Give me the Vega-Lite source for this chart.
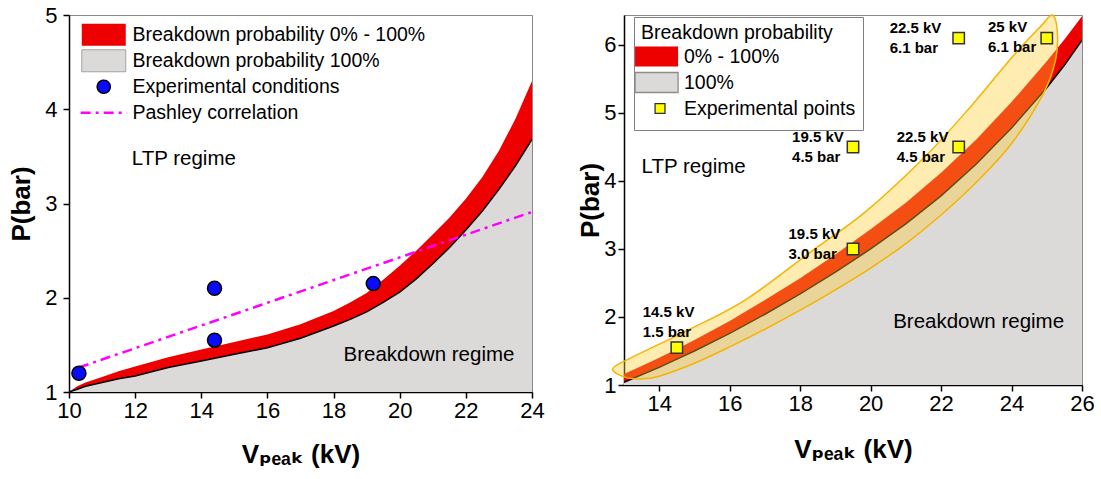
{
  "$schema": "https://vega.github.io/schema/vega-lite/v6.json",
  "background": "white",
  "padding": {"left": 8, "top": 3, "right": 5, "bottom": 0},
  "datasets": {
    "left_band": [
      {"x": 10, "lower": 1.0, "upper": 1.0},
      {"x": 10.25, "lower": 1.03, "upper": 1.06},
      {"x": 10.5, "lower": 1.06, "upper": 1.10},
      {"x": 11, "lower": 1.10, "upper": 1.16},
      {"x": 11.5, "lower": 1.14, "upper": 1.22},
      {"x": 12, "lower": 1.17, "upper": 1.27},
      {"x": 13, "lower": 1.26, "upper": 1.37},
      {"x": 14, "lower": 1.33, "upper": 1.45},
      {"x": 15, "lower": 1.40, "upper": 1.53},
      {"x": 16, "lower": 1.47, "upper": 1.61},
      {"x": 17, "lower": 1.57, "upper": 1.72},
      {"x": 18, "lower": 1.70, "upper": 1.86},
      {"x": 18.5, "lower": 1.77, "upper": 1.95},
      {"x": 19, "lower": 1.85, "upper": 2.05},
      {"x": 19.5, "lower": 1.95, "upper": 2.19},
      {"x": 20, "lower": 2.06, "upper": 2.34},
      {"x": 20.5, "lower": 2.20, "upper": 2.50},
      {"x": 21, "lower": 2.36, "upper": 2.67},
      {"x": 21.5, "lower": 2.53, "upper": 2.85},
      {"x": 22, "lower": 2.72, "upper": 3.05},
      {"x": 22.5, "lower": 2.92, "upper": 3.28},
      {"x": 23, "lower": 3.15, "upper": 3.56},
      {"x": 23.5, "lower": 3.40, "upper": 3.90},
      {"x": 24, "lower": 3.68, "upper": 4.30}
    ],
    "left_points": [
      {"x": 10.3, "y": 1.2},
      {"x": 14.4, "y": 2.1},
      {"x": 14.4, "y": 1.55},
      {"x": 19.2, "y": 2.15}
    ],
    "pashley": [
      {"x": 10.3, "y": 1.26},
      {"x": 24, "y": 2.91}
    ],
    "left_text": [
      {"x": 11.9, "y": 3.47, "text": "LTP regime"},
      {"x": 18.3, "y": 1.39, "text": "Breakdown regime"}
    ],
    "right_band": [
      {"x": 13, "lower": 1.04, "upper": 1.16},
      {"x": 13.5, "lower": 1.15, "upper": 1.28},
      {"x": 14, "lower": 1.26, "upper": 1.40},
      {"x": 14.5, "lower": 1.38, "upper": 1.53},
      {"x": 15, "lower": 1.50, "upper": 1.66},
      {"x": 16, "lower": 1.76, "upper": 1.94},
      {"x": 17, "lower": 2.04, "upper": 2.25},
      {"x": 18, "lower": 2.34, "upper": 2.57},
      {"x": 19, "lower": 2.66, "upper": 2.92},
      {"x": 20, "lower": 3.00, "upper": 3.29},
      {"x": 21, "lower": 3.37, "upper": 3.68},
      {"x": 22, "lower": 3.78, "upper": 4.12},
      {"x": 23, "lower": 4.25, "upper": 4.61},
      {"x": 24, "lower": 4.78, "upper": 5.16},
      {"x": 25, "lower": 5.37, "upper": 5.76},
      {"x": 25.5, "lower": 5.70, "upper": 6.08},
      {"x": 26, "lower": 6.07, "upper": 6.42}
    ],
    "ellipse": [
      {"i": 0, "x": 12.68, "y": 1.24},
      {"i": 1, "x": 13.2, "y": 1.40},
      {"i": 2, "x": 14.0, "y": 1.60},
      {"i": 3, "x": 14.87, "y": 1.82},
      {"i": 4, "x": 16.47, "y": 2.26},
      {"i": 5, "x": 18.31, "y": 2.96},
      {"i": 6, "x": 19.86, "y": 3.55},
      {"i": 7, "x": 21.55, "y": 4.36},
      {"i": 8, "x": 22.85, "y": 5.10},
      {"i": 9, "x": 24.05, "y": 5.84},
      {"i": 10, "x": 24.84, "y": 6.28},
      {"i": 11, "x": 25.16, "y": 6.44},
      {"i": 12, "x": 25.3, "y": 6.2},
      {"i": 13, "x": 25.25, "y": 5.78},
      {"i": 14, "x": 24.9, "y": 5.28},
      {"i": 15, "x": 24.0, "y": 4.55},
      {"i": 16, "x": 23.0, "y": 3.98},
      {"i": 17, "x": 22.0, "y": 3.50},
      {"i": 18, "x": 21.0, "y": 3.08},
      {"i": 19, "x": 20.0, "y": 2.72},
      {"i": 20, "x": 19.0, "y": 2.40},
      {"i": 21, "x": 18.0, "y": 2.10},
      {"i": 22, "x": 17.0, "y": 1.82},
      {"i": 23, "x": 16.0, "y": 1.56},
      {"i": 24, "x": 15.0, "y": 1.32},
      {"i": 25, "x": 14.0, "y": 1.13},
      {"i": 26, "x": 13.5, "y": 1.09},
      {"i": 27, "x": 13.0, "y": 1.12}
    ],
    "right_points": [
      {"x": 14.5, "y": 1.55},
      {"x": 19.5, "y": 4.5},
      {"x": 19.5, "y": 3.0},
      {"x": 22.5, "y": 4.5},
      {"x": 22.5, "y": 6.1},
      {"x": 25.0, "y": 6.1}
    ],
    "right_labels": [
      {"x": 13.53, "y": 2.0, "label": "14.5 kV\n1.5 bar"},
      {"x": 17.77, "y": 4.57, "label": "19.5 kV\n4.5 bar"},
      {"x": 17.67, "y": 3.14, "label": "19.5 kV\n3.0 bar"},
      {"x": 20.74, "y": 4.57, "label": "22.5 kV\n4.5 bar"},
      {"x": 20.54, "y": 6.17, "label": "22.5 kV\n6.1 bar"},
      {"x": 23.33, "y": 6.19, "label": "25 kV\n6.1 bar"}
    ],
    "right_text": [
      {"x": 13.5, "y": 4.21, "text": "LTP regime"},
      {"x": 20.64, "y": 1.92, "text": "Breakdown regime"}
    ]
  },
  "hconcat": [
    {
      "width": 463,
      "height": 377,
      "layer": [
        {
          "data": {"name": "left_band"},
          "mark": {"type": "area", "clip": true},
          "encoding": {
            "x": {"field": "x", "type": "quantitative",
              "scale": {"domain": [10, 24], "nice": false, "zero": false},
              "axis": {"title": "Vₚₑₐₖ (kV)", "values": [10,11,12,13,14,15,16,17,18,19,20,21,22,23,24],
                "format": "d", "labelOverlap": false,
                "labelExpr": "datum.value % 2 === 0 ? format(datum.value, 'd') : ''",
                "tickSize": {"condition": {"test": "datum.value % 2 !== 0", "value": 3}, "value": 6},
                "labelPadding": 2, "titlePadding": 20}},
            "y": {"field": "lower", "type": "quantitative",
              "scale": {"domain": [1, 5], "nice": false, "zero": false},
              "axis": {"title": "P(bar)", "values": [1,1.5,2,2.5,3,3.5,4,4.5,5],
                "format": "d", "labelOverlap": false,
                "labelExpr": "datum.value % 1 === 0 ? format(datum.value, 'd') : ''",
                "tickSize": {"condition": {"test": "datum.value % 1 !== 0", "value": 3}, "value": 6},
                "labelPadding": 6, "titlePadding": 10}},
            "y2": {"datum": 1},
            "fill": {"datum": "Breakdown probability 100%", "type": "nominal",
              "scale": {"domain": ["Breakdown probability 0% - 100%", "Breakdown probability 100%", "Experimental conditions", "Pashley correlation"],
                        "range": ["#ee0000", "#dcd9d9", "#0a0aff", "#ff00ff"]},
              "legend": {
                "orient": "none", "legendX": 25, "legendY": 10, "title": null, "padding": 0,
                "gridAlign": "all",
                "symbolSize": 484, "symbolType": "M-2,-1H2V1H-2Z", "symbolOpacity": 1,
                "labelFont": "Liberation Sans", "labelFontSize": 19.5, "labelColor": "black",
                "labelOffset": 19, "labelLimit": 500, "rowPadding": -9,
                "encode": {"symbols": {"update": {
                  "shape": {"signal": "datum.value === 'Experimental conditions' ? 'M-2,-1M2,1M0.6,0L0.554,0.23L0.424,0.424L0.23,0.554L0,0.6L-0.23,0.554L-0.424,0.424L-0.554,0.23L-0.6,0L-0.554,-0.23L-0.424,-0.424L-0.23,-0.554L0,-0.6L0.23,-0.554L0.424,-0.424L0.554,-0.23Z' : datum.value === 'Pashley correlation' ? 'M-2,-1M2,1M-2.1,0H2.1' : 'M-2,-1H2V1H-2Z'"},
                  "size": {"value": 484},
                  "stroke": {"signal": "datum.value === 'Breakdown probability 100%' ? '#9a9a9a' : datum.value === 'Experimental conditions' ? '#000000' : datum.value === 'Pashley correlation' ? '#ff00ff' : 'transparent'"},
                  "strokeWidth": {"signal": "datum.value === 'Pashley correlation' ? 2.5 : datum.value === 'Experimental conditions' ? 1.5 : 1"},
                  "strokeDash": {"signal": "datum.value === 'Pashley correlation' ? [10,5,3,5] : [1,0]"}
                }}}
              }}
          }
        },
        {
          "data": {"name": "left_band"},
          "mark": {"type": "area", "clip": true},
          "encoding": {
            "x": {"field": "x", "type": "quantitative"},
            "y": {"field": "upper", "type": "quantitative"},
            "y2": {"field": "lower"},
            "fill": {"datum": "Breakdown probability 0% - 100%", "type": "nominal"}
          }
        },
        {
          "data": {"name": "left_band"},
          "mark": {"type": "line", "color": "black", "strokeWidth": 1.5, "clip": true},
          "encoding": {
            "x": {"field": "x", "type": "quantitative"},
            "y": {"field": "lower", "type": "quantitative"}
          }
        },
        {
          "data": {"name": "pashley"},
          "mark": {"type": "line", "color": "#ff00ff", "strokeWidth": 2.5, "strokeDash": [10, 5, 3, 5]},
          "encoding": {
            "x": {"field": "x", "type": "quantitative"},
            "y": {"field": "y", "type": "quantitative"}
          }
        },
        {
          "data": {"name": "left_points"},
          "mark": {"type": "point", "shape": "circle", "filled": true, "fill": "#0a0aff", "stroke": "black", "strokeWidth": 1.5, "size": 196, "opacity": 1},
          "encoding": {
            "x": {"field": "x", "type": "quantitative"},
            "y": {"field": "y", "type": "quantitative"}
          }
        },
        {
          "data": {"name": "left_text"},
          "mark": {"type": "text", "align": "left", "baseline": "middle", "font": "Liberation Sans", "fontSize": 20.5, "color": "black"},
          "encoding": {
            "x": {"field": "x", "type": "quantitative"},
            "y": {"field": "y", "type": "quantitative"},
            "text": {"field": "text"}
          }
        }
      ]
    },
    {
      "width": 458,
      "height": 370,
      "layer": [
        {
          "data": {"name": "right_band"},
          "mark": {"type": "area", "clip": true},
          "encoding": {
            "x": {"field": "x", "type": "quantitative",
              "scale": {"domain": [13, 26], "nice": false, "zero": false},
              "axis": {"title": "Vₚₑₐₖ (kV)", "values": [14,15,16,17,18,19,20,21,22,23,24,25,26],
                "format": "d", "labelOverlap": false,
                "labelExpr": "datum.value % 2 === 0 ? format(datum.value, 'd') : ''",
                "tickSize": {"condition": {"test": "datum.value % 2 !== 0", "value": 3}, "value": 6},
                "labelPadding": 2, "titlePadding": 22}},
            "y": {"field": "lower", "type": "quantitative",
              "scale": {"domain": [1, 6.44], "nice": false, "zero": false},
              "axis": {"title": "P(bar)", "values": [1,1.5,2,2.5,3,3.5,4,4.5,5,5.5,6],
                "format": "d", "labelOverlap": false,
                "labelExpr": "datum.value % 1 === 0 ? format(datum.value, 'd') : ''",
                "tickSize": {"condition": {"test": "datum.value % 1 !== 0", "value": 3}, "value": 6},
                "labelPadding": 2, "titlePadding": 0}},
            "y2": {"datum": 1},
            "fill": {"datum": "100%", "type": "nominal",
              "scale": {"domain": ["0% - 100%", "100%", "Experimental points"],
                        "range": ["#ee0000", "#dcd9d9", "#ffff00"]},
              "legend": {
                "orient": "none", "legendX": 10, "legendY": 2, "title": "Breakdown probability",
                "titleFont": "Liberation Sans", "titleFontSize": 19.5, "titleFontWeight": "normal", "titleColor": "black", "titlePadding": 1, "titleLimit": 500,
                "padding": 7, "strokeColor": "#808080", "fillColor": "white",
                "gridAlign": "all",
                "symbolSize": 484, "symbolType": "M-1.63,-1M-1.63,1M-1.63,-0.91H2.28V0.91H-1.63Z", "symbolOpacity": 1,
                "labelFont": "Liberation Sans", "labelFontSize": 19.5, "labelColor": "black",
                "labelOffset": 19, "labelLimit": 500, "rowPadding": -10,
                "encode": {"symbols": {"update": {
                  "shape": {"signal": "datum.value === 'Experimental points' ? 'M0,-1M0,1M0.19,-0.45H1.09V0.45H0.19Z' : 'M-1.63,-1M-1.63,1M-1.63,-0.91H2.28V0.91H-1.63Z'"},
                  "size": {"value": 484},
                  "stroke": {"signal": "datum.value === '100%' ? '#8c8c8c' : datum.value === 'Experimental points' ? '#333333' : 'transparent'"},
                  "strokeWidth": {"value": 1.3}
                }}}
              }}
          }
        },
        {
          "data": {"name": "right_band"},
          "mark": {"type": "area", "clip": true},
          "encoding": {
            "x": {"field": "x", "type": "quantitative"},
            "y": {"field": "upper", "type": "quantitative"},
            "y2": {"field": "lower"},
            "fill": {"datum": "0% - 100%", "type": "nominal"}
          }
        },
        {
          "data": {"name": "right_band"},
          "mark": {"type": "line", "color": "black", "strokeWidth": 1.5, "clip": true},
          "encoding": {
            "x": {"field": "x", "type": "quantitative"},
            "y": {"field": "lower", "type": "quantitative"}
          }
        },
        {
          "data": {"name": "ellipse"},
          "mark": {"type": "line", "interpolate": "cardinal-closed", "stroke": "#f5b400", "strokeWidth": 1.5, "fill": "#ffcc33", "fillOpacity": 0.38, "clip": false},
          "encoding": {
            "x": {"field": "x", "type": "quantitative"},
            "y": {"field": "y", "type": "quantitative"},
            "order": {"field": "i", "type": "quantitative"}
          }
        },
        {
          "data": {"name": "right_labels"},
          "mark": {"type": "text", "align": "left", "baseline": "alphabetic", "font": "Liberation Sans", "fontSize": 15, "fontWeight": "bold", "lineBreak": "\n", "lineHeight": 20, "color": "black"},
          "encoding": {
            "x": {"field": "x", "type": "quantitative"},
            "y": {"field": "y", "type": "quantitative"},
            "text": {"field": "label"}
          }
        },
        {
          "data": {"name": "right_points"},
          "mark": {"type": "point", "shape": "square", "filled": true, "fill": "#ffff00", "stroke": "#333333", "strokeWidth": 1.5, "size": 130, "opacity": 1},
          "encoding": {
            "x": {"field": "x", "type": "quantitative"},
            "y": {"field": "y", "type": "quantitative"}
          }
        },
        {
          "data": {"name": "right_text"},
          "mark": {"type": "text", "align": "left", "baseline": "middle", "font": "Liberation Sans", "fontSize": 20.5, "color": "black"},
          "encoding": {
            "x": {"field": "x", "type": "quantitative"},
            "y": {"field": "y", "type": "quantitative"},
            "text": {"field": "text"}
          }
        }
      ]
    }
  ],
  "spacing": 92,
  "bounds": "flush",
  "resolve": {"scale": {"fill": "independent", "x": "independent", "y": "independent"}, "legend": {"fill": "independent"}},
  "config": {
    "view": {"stroke": "#8a8a8a", "strokeWidth": 1},
    "axis": {
      "domainColor": "black", "domainWidth": 1.5, "tickColor": "black", "tickWidth": 1.5,
      "labelFont": "Liberation Sans", "labelFontSize": 22, "labelColor": "black",
      "titleFont": "Liberation Sans, DejaVu Sans", "titleFontSize": 26, "titleFontWeight": "bold", "titleColor": "black",
      "grid": false, "labelFlush": false, "labelOverlap": false, "labelBound": false
    }
  }
}
